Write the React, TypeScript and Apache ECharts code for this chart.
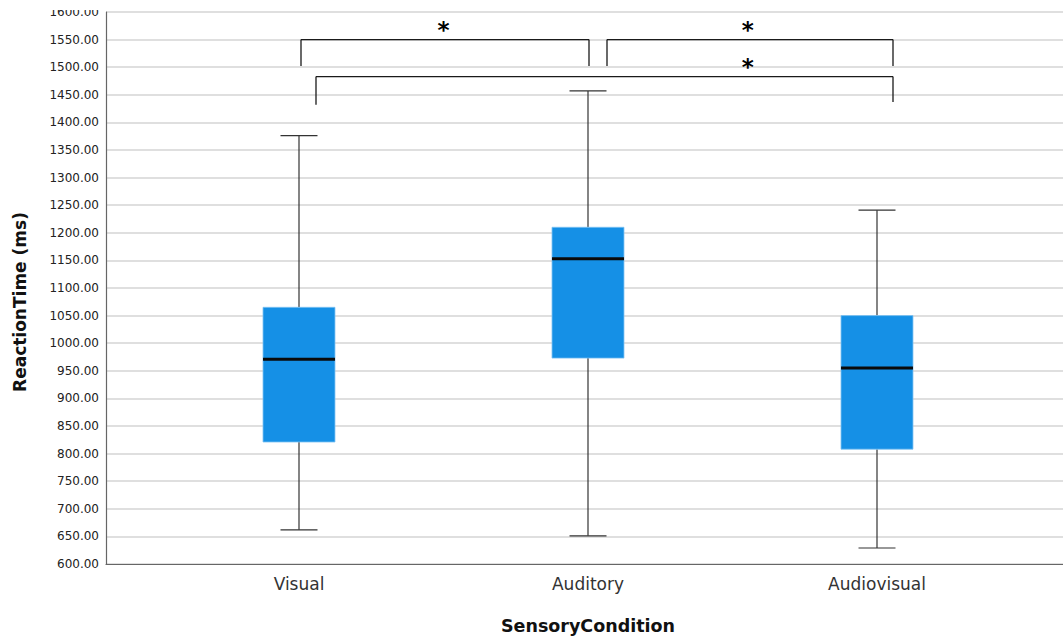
import React, { useEffect, useRef } from "react";
import * as echarts from "echarts";

const categories = ["Visual", "Auditory", "Audiovisual"];
// [min, Q1, median, Q3, max]
const visualStats = [662, 821, 971, 1065, 1376];
const auditoryStats = [651, 973, 1153, 1210, 1457];
const audiovisualStats = [629, 808, 955, 1050, 1241];
const yTicks = { min: 600, max: 1600, step: 50 };

// significance comparisons between categories (values in ms)
const comparisonPairs = [
  [0, 1],
  [1, 2],
  [0, 2],
];
const comparisonTop = [1550, 1550, 1483];
const comparisonLegLeft = [1502, 1502, 1432];
const comparisonLegRight = [1502, 1502, 1437];
const comparisonLabels = ["*", "*", "*"];

// pixel offsets for the bracket ends and star positions (style)
const bracketOffsets = [
  [2, 1],
  [19, 16],
  [17, 16],
];
const starPositions = [0.5, 1.553, 1.553]; // in category units

export default function App() {
  const ref = useRef<HTMLDivElement>(null);

  useEffect(() => {
    if (!ref.current) return;
    const chart = echarts.init(ref.current, null, { renderer: "svg" });
    const stats = [visualStats, auditoryStats, audiovisualStats];
    const boxData = stats.map((s, i) => [i, ...s]);
    const bracketData = comparisonPairs.map((p, k) => [
      p[0],
      p[1],
      comparisonTop[k],
      comparisonLegLeft[k],
      comparisonLegRight[k],
      k,
    ]);

    const font = "'DejaVu Sans', sans-serif";

    chart.setOption({
      animation: false,
      backgroundColor: "#ffffff",
      grid: [
        { left: 106, top: 12, width: 957, height: 552 },
        { left: 154.5, top: 12, width: 867, height: 552 },
      ],
      xAxis: [
        {
          type: "value",
          gridIndex: 0,
          min: 0,
          max: 1,
          axisLine: { show: true, onZero: false, lineStyle: { color: "#666", width: 1.2 } },
          axisTick: { show: false },
          axisLabel: { show: false },
          splitLine: { show: false },
        },
        {
          type: "category",
          gridIndex: 1,
          data: categories,
          axisLine: { show: false },
          axisTick: { show: false },
          axisLabel: {
            fontFamily: font,
            fontSize: 17,
            color: "#333",
            margin: 11,
          },
          name: "SensoryCondition",
          nameLocation: "middle",
          nameGap: 53,
          nameTextStyle: {
            fontFamily: font,
            fontWeight: "bold",
            fontSize: 17.5,
            color: "#111",
          },
        },
      ],
      yAxis: [
        {
          type: "value",
          gridIndex: 0,
          min: yTicks.min,
          max: yTicks.max,
          interval: yTicks.step,
          axisLine: { show: true, lineStyle: { color: "#666", width: 1.2 } },
          axisTick: { show: false },
          axisLabel: {
            fontFamily: font,
            fontSize: 12,
            color: "#222",
            margin: 7,
            padding: [4, 0, 0, 0],
            formatter: (v: number) => v.toFixed(2),
          },
          splitLine: { show: true, lineStyle: { color: "#d4d4d4", width: 1.5 } },
        },
        {
          type: "value",
          gridIndex: 1,
          min: yTicks.min,
          max: yTicks.max,
          show: false,
          splitLine: { show: false },
        },
      ],
      graphic: [
        {
          type: "rect",
          shape: { x: 0, y: 0, width: 104, height: 10 },
          style: { fill: "#ffffff" },
          z: 100,
        },
        {
          type: "text",
          x: 20,
          y: 302,
          rotation: Math.PI / 2,
          style: {
            text: "ReactionTime (ms)",
            fontFamily: font,
            fontWeight: "bold",
            fontSize: 17,
            fill: "#111",
            align: "center",
            verticalAlign: "middle",
          },
        },
      ],
      series: [
        {
          type: "custom",
          name: "boxes",
          xAxisIndex: 1,
          yAxisIndex: 1,
          data: boxData,
          encode: { x: 0, y: [1, 2, 3, 4, 5] },
          renderItem: (params: any, api: any) => {
            const i = api.value(0);
            const band = api.size([1, 0])[0];
            const x = api.coord([i, 0])[0];
            const y = (v: number) => api.coord([i, v])[1];
            const yMin = y(api.value(1));
            const yQ1 = y(api.value(2));
            const yMed = y(api.value(3));
            const yQ3 = y(api.value(4));
            const yMax = y(api.value(5));
            const bw = band * 0.249;
            const cw = band * 0.128;
            const lineStyle = { stroke: "#333", lineWidth: 1.2 };
            return {
              type: "group",
              children: [
                { type: "line", shape: { x1: x, y1: yMax, x2: x, y2: yQ3 }, style: lineStyle },
                { type: "line", shape: { x1: x, y1: yQ1, x2: x, y2: yMin }, style: lineStyle },
                { type: "line", shape: { x1: x - cw / 2, y1: yMax, x2: x + cw / 2, y2: yMax }, style: lineStyle },
                { type: "line", shape: { x1: x - cw / 2, y1: yMin, x2: x + cw / 2, y2: yMin }, style: lineStyle },
                {
                  type: "rect",
                  shape: { x: x - bw / 2, y: yQ3, width: bw, height: yQ1 - yQ3 },
                  style: { fill: "#1590e6", stroke: "#7cc2f2", lineWidth: 0.8 },
                },
                {
                  type: "line",
                  shape: { x1: x - bw / 2, y1: yMed, x2: x + bw / 2, y2: yMed },
                  style: { stroke: "#0a0a0a", lineWidth: 3 },
                },
              ],
            };
          },
        },
        {
          type: "custom",
          name: "brackets",
          xAxisIndex: 1,
          yAxisIndex: 1,
          data: bracketData,
          encode: { x: [0, 1], y: [2, 3, 4] },
          renderItem: (params: any, api: any) => {
            const a = api.value(0);
            const b = api.value(1);
            const k = api.value(5);
            const band = api.size([1, 0])[0];
            const x1 = api.coord([a, 0])[0] + bracketOffsets[k][0];
            const x2 = api.coord([b, 0])[0] + bracketOffsets[k][1];
            const yTop = api.coord([a, api.value(2)])[1];
            const yL = api.coord([a, api.value(3)])[1];
            const yR = api.coord([a, api.value(4)])[1];
            const sx = api.coord([0, 0])[0] + starPositions[k] * band;
            const st = { stroke: "#1a1a1a", lineWidth: 1.3 };
            return {
              type: "group",
              children: [
                { type: "line", shape: { x1: x1, y1: yTop, x2: x2, y2: yTop }, style: st },
                { type: "line", shape: { x1: x1, y1: yTop, x2: x1, y2: yL }, style: st },
                { type: "line", shape: { x1: x2, y1: yTop, x2: x2, y2: yR }, style: st },
                {
                  type: "text",
                  x: sx,
                  y: yTop + 2,
                  style: {
                    text: comparisonLabels[k],
                    fontFamily: font,
                    fontWeight: "bold",
                    fontSize: 23,
                    fill: "#000",
                    align: "center",
                    verticalAlign: "bottom",
                  },
                },
              ],
            };
          },
        },
      ],
    });

    return () => chart.dispose();
  }, []);

  return (
    <div
      ref={ref}
      style={{ position: "absolute", left: 0, top: 0, width: 1063, height: 642 }}
    />
  );
}
